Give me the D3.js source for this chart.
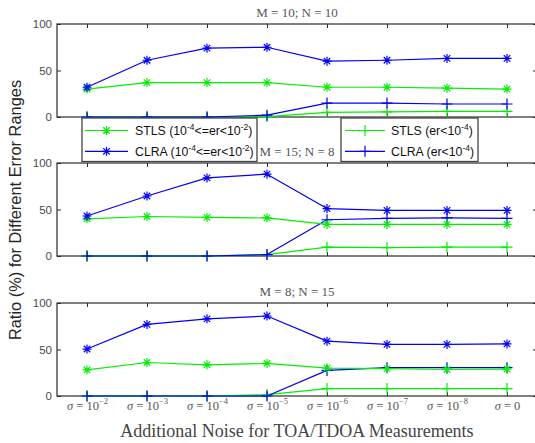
<!DOCTYPE html>
<html><head><meta charset="utf-8">
<script src="https://cdn.jsdelivr.net/npm/d3@7"></script>
<style>body{margin:0;background:#fff}svg{display:block}</style>
</head><body>
<svg id="c" width="535" height="443"></svg>
<script>
// ---------- data ----------
const categories = [1, 2, 3, 4, 5, 6, 7, 8];
const tickBase = ["10", "10", "10", "10", "10", "10", "10", "0"];
const tickExp  = ["\u22122", "\u22123", "\u22124", "\u22125", "\u22126", "\u22127", "\u22128", ""];
const yTicks = [0, 50, 100];
const panelTitles = ["M=10; N=10", "M=15; N=8", "M=8; N=15"];
const seriesNames = ["STLS (10^{-4}<=er<10^{-2})", "CLRA (10^{-4}<=er<10^{-2})", "STLS (er<10^{-4})", "CLRA (er<10^{-4})"];
const yLabel = "Ratio (%) for Different Error Ranges";
const xLabel = "Additional Noise for TOA/TDOA Measurements";

// panel 1 : M=10; N=10
const stlsStarP1 = [30, 37, 37, 37, 32, 32, 31, 30];
const clraStarP1 = [32, 61, 74, 75, 60, 61, 63, 63];
const stlsPlusP1 = [0, 0, 0, 0.5, 5, 5.5, 6, 6];
const clraPlusP1 = [0, 0, 0, 2, 15, 15, 14, 14];
// panel 2 : M=15; N=8
const stlsStarP2 = [40, 42.5, 41.5, 41, 34, 34, 34, 34];
const clraStarP2 = [43, 64.5, 84, 88, 51, 49, 49, 49];
const stlsPlusP2 = [0, 0, 0, 1.5, 9.5, 9, 9.5, 9.5];
const clraPlusP2 = [0, 0, 0, 1.5, 39, 40.5, 41, 40.5];
// panel 3 : M=8; N=15
const stlsStarP3 = [28, 36, 33.5, 35, 30, 29.5, 28.5, 29];
const clraStarP3 = [50.5, 77, 83, 86, 59, 55.5, 55.5, 56];
const stlsPlusP3 = [0, 0, 0, 1.5, 8, 8, 8, 8];
const clraPlusP3 = [0, 0, 0, 0, 27.5, 30.5, 30.5, 30.5];

const panels = [
  {title: panelTitles[0], stlsStar: stlsStarP1, clraStar: clraStarP1, stlsPlus: stlsPlusP1, clraPlus: clraPlusP1},
  {title: panelTitles[1], stlsStar: stlsStarP2, clraStar: clraStarP2, stlsPlus: stlsPlusP2, clraPlus: clraPlusP2},
  {title: panelTitles[2], stlsStar: stlsStarP3, clraStar: clraStarP3, stlsPlus: stlsPlusP3, clraPlus: clraPlusP3}
];

// ---------- style / layout ----------
const GREEN = "#00f000", BLUE = "#0000ff";
const SANS = "'Liberation Sans', Arial, sans-serif";
const SERIF = "'Liberation Serif', 'Times New Roman', serif";
const left = 57, right = 537, tops = [24, 163, 303], ph = 93;

const svg = d3.select("#c");
const x = d3.scaleLinear().domain([0.5, 8.5]).range([left, right]);

function markerPath(type, r) {
  if (type === "plus") return `M${-r},0H${r}M0,${-r}V${r}`;
  const d = r * 0.72;
  return `M${-r},0H${r}M0,${-r}V${r}M${-d},${-d}L${d},${d}M${-d},${d}L${d},${-d}`;
}

function addRich(textSel, str, supSize, supDy) {
  const parts = str.split(/(\^\{[^}]*\})/);
  let raised = false;
  parts.forEach(p => {
    if (!p) return;
    if (p.startsWith("^{")) {
      textSel.append("tspan").attr("dy", -supDy).attr("font-size", supSize).text(p.slice(2, -1));
      raised = true;
    } else {
      const t = textSel.append("tspan").text(p);
      if (raised) { t.attr("dy", supDy); raised = false; }
    }
  });
}

panels.forEach((p, pi) => {
  const top = tops[pi];
  const y = d3.scaleLinear().domain([0, 100]).range([top + ph, top]);
  const g = svg.append("g");

  // box
  g.append("rect").attr("x", left).attr("y", top).attr("width", right - left).attr("height", ph)
    .attr("fill", "none").attr("stroke", "#2b2b2b").attr("stroke-width", 1.2);

  // y axis left
  const ya = g.append("g").attr("transform", `translate(${left},0)`)
    .call(d3.axisLeft(y).tickValues(yTicks).tickSizeInner(-4).tickSizeOuter(0).tickPadding(5));
  ya.select(".domain").remove();
  ya.selectAll("line").attr("stroke", "#2b2b2b");
  ya.selectAll("text").attr("font-family", SANS).attr("font-size", 11.5).attr("fill", "#4a4a4a");
  // y axis right (ticks only)
  const yr = g.append("g").attr("transform", `translate(${right},0)`)
    .call(d3.axisRight(y).tickValues(yTicks).tickSizeInner(-4).tickSizeOuter(0).tickFormat(""));
  yr.select(".domain").remove();
  yr.selectAll("line").attr("stroke", "#2b2b2b");
  // x ticks (inward) top and bottom
  const xt = g.append("g").attr("transform", `translate(0,${top})`)
    .call(d3.axisTop(x).tickValues(categories).tickSizeInner(-4).tickSizeOuter(0).tickFormat(""));
  xt.select(".domain").remove();
  xt.selectAll("line").attr("stroke", "#2b2b2b");
  const xb = g.append("g").attr("transform", `translate(0,${top + ph})`)
    .call(d3.axisBottom(x).tickValues(categories).tickSizeInner(-4).tickSizeOuter(0).tickFormat(""));
  xb.select(".domain").remove();
  xb.selectAll("line").attr("stroke", "#2b2b2b");

  // title
  g.append("text").attr("x", (left + right) / 2).attr("y", top - 7).attr("text-anchor", "middle")
    .attr("font-family", SERIF).attr("font-size", 13).attr("fill", "#555")
    .text(p.title.replace(/=/g, " = "));

  // series
  const series = [
    {vals: p.stlsPlus, color: GREEN, m: "plus"},
    {vals: p.clraPlus, color: BLUE, m: "plus"},
    {vals: p.stlsStar, color: GREEN, m: "star"},
    {vals: p.clraStar, color: BLUE, m: "star"}
  ];
  const line = d3.line().x((d, i) => x(categories[i])).y(d => y(d));
  series.forEach(s => {
    g.append("path").attr("d", line(s.vals)).attr("fill", "none")
      .attr("stroke", s.color).attr("stroke-width", 1.2).attr("stroke-linejoin", "round");
    g.selectAll(null).data(s.vals).enter().append("path")
      .attr("transform", (d, i) => `translate(${x(categories[i])},${y(d)})`)
      .attr("d", markerPath(s.m, s.m === "plus" ? 5.5 : 4.5))
      .attr("fill", "none").attr("stroke", s.color).attr("stroke-width", 1.2);
  });

  // x tick labels on bottom panel
  if (pi === 2) {
    const xa = g.append("g").attr("transform", `translate(0,${top + ph})`)
      .call(d3.axisBottom(x).tickValues(categories).tickSize(0).tickFormat(""));
    xa.select(".domain").remove();
    xa.selectAll(".tick").each(function(d, i) {
      const t = d3.select(this).append("text").attr("y", 14).attr("text-anchor", "middle")
        .attr("font-family", SERIF).attr("font-size", 12.5).attr("fill", "#555");
      t.append("tspan").attr("font-style", "italic").text("\u03C3");
      t.append("tspan").text(" = " + tickBase[i]);
      if (tickExp[i]) t.append("tspan").attr("dy", -6).attr("font-size", 8.5).text(tickExp[i]);
    });
  }
});

// ---------- legends ----------
const legends = [
  {x0: 82, x1: 257, items: [{name: seriesNames[0], color: GREEN, m: "star"}, {name: seriesNames[1], color: BLUE, m: "star"}], lx0: 85, lx1: 128, tx: 135},
  {x0: 341, x1: 478, items: [{name: seriesNames[2], color: GREEN, m: "plus"}, {name: seriesNames[3], color: BLUE, m: "plus"}], lx0: 345, lx1: 385, tx: 391}
];
const legTop = 118, legBot = 161.5, rowY = [130.5, 151.3];
legends.forEach(L => {
  const g = svg.append("g");
  g.append("rect").attr("x", L.x0).attr("y", legTop).attr("width", L.x1 - L.x0).attr("height", legBot - legTop)
    .attr("fill", "#fff").attr("stroke", "#444").attr("stroke-width", 1.3);
  L.items.forEach((it, k) => {
    const yy = rowY[k];
    g.append("line").attr("x1", L.lx0).attr("x2", L.lx1).attr("y1", yy).attr("y2", yy)
      .attr("stroke", it.color).attr("stroke-width", 1.2);
    g.append("path").attr("transform", `translate(${(L.lx0 + L.lx1) / 2},${yy})`)
      .attr("d", markerPath(it.m, it.m === "plus" ? 5.5 : 4.5))
      .attr("fill", "none").attr("stroke", it.color).attr("stroke-width", 1.2);
    const t = g.append("text").attr("x", L.tx).attr("y", yy + 4.5)
      .attr("font-family", SANS).attr("font-size", 12.3).attr("fill", "#111");
    addRich(t, it.name, 8.5, 5);
  });
});

// ---------- axis labels ----------
svg.append("text").attr("transform", `translate(21,210) rotate(-90)`).attr("text-anchor", "middle")
  .attr("font-family", SANS).attr("font-size", 16.4).attr("fill", "#262626").text(yLabel);
svg.append("text").attr("x", (left + right) / 2).attr("y", 437).attr("text-anchor", "middle")
  .attr("font-family", SERIF).attr("font-size", 18).attr("fill", "#444").text(xLabel);
</script>
</body></html>
